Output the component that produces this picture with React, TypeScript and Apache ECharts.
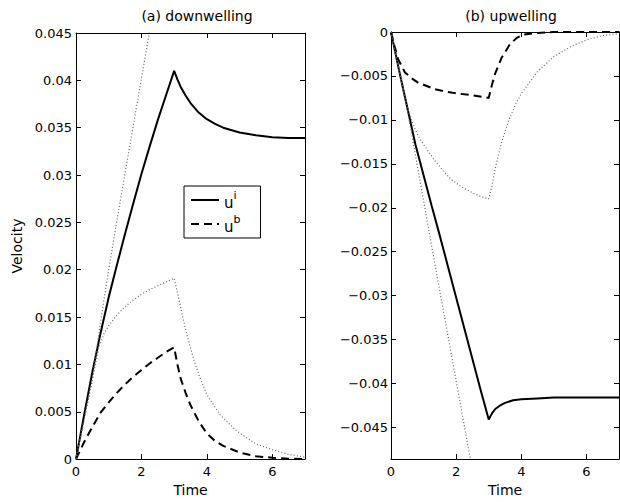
import React, { useEffect, useRef } from "react";
import * as echarts from "echarts";

// ---------- data ----------
const xTicks = [0, 2, 4, 6];
const downTicks = [0, 0.005, 0.01, 0.015, 0.02, 0.025, 0.03, 0.035, 0.04, 0.045];
const upTicks = [0, -0.005, -0.01, -0.015, -0.02, -0.025, -0.03, -0.035, -0.04, -0.045];

// (a) downwelling
const tDownSolid = [0, 0.25, 0.5, 0.75, 1.0, 1.25, 1.5, 1.75, 2.0, 2.25, 2.5, 2.75, 3.0, 3.1, 3.2, 3.35, 3.5, 3.75, 4.0, 4.25, 4.5, 5.0, 5.5, 6.0, 6.5, 7.0];
const vDownSolid = [0, 0.0047, 0.0092, 0.0133, 0.0171, 0.0205, 0.0238, 0.027, 0.0301, 0.033, 0.0358, 0.0384, 0.041, 0.0401, 0.0393, 0.0384, 0.0376, 0.0366, 0.0359, 0.0354, 0.035, 0.0345, 0.0342, 0.034, 0.0339, 0.0339];

const tDownDash = [0, 0.25, 0.5, 0.75, 1.0, 1.25, 1.5, 1.75, 2.0, 2.25, 2.5, 2.75, 3.0, 3.1, 3.2, 3.35, 3.5, 3.75, 4.0, 4.25, 4.5, 5.0, 5.5, 6.0, 6.5, 7.0];
const vDownDash = [0, 0.0018, 0.0034, 0.0049, 0.006, 0.007, 0.0079, 0.0087, 0.0094, 0.0101, 0.0107, 0.0113, 0.0118, 0.01, 0.0085, 0.007, 0.0057, 0.004, 0.0027, 0.0019, 0.0014, 0.0007, 0.0003, 0.00015, 0.00005, 0];

const tDownDotA = [0, 0.25, 0.5, 0.75, 1.0, 1.25, 1.5, 1.75, 2.0, 2.25, 2.4];
const vDownDotA = [0, 0.0042, 0.0084, 0.0145, 0.02, 0.0252, 0.0302, 0.0352, 0.0402, 0.0452, 0.0482];

const tDownDotB = [0, 0.25, 0.5, 0.7, 0.85, 1.0, 1.25, 1.5, 1.75, 2.0, 2.25, 2.5, 2.75, 3.0, 3.1, 3.25, 3.4, 3.6, 3.8, 4.0, 4.4, 4.9, 5.5, 6.0, 6.5, 7.0];
const vDownDotB = [0, 0.0042, 0.0084, 0.0118, 0.0132, 0.0141, 0.0152, 0.0161, 0.0168, 0.0174, 0.0179, 0.0183, 0.0187, 0.0191, 0.0176, 0.0152, 0.013, 0.0105, 0.0085, 0.0068, 0.0047, 0.003, 0.0016, 0.001, 0.0005, 0.0002];

// (b) upwelling
const tUpSolid = [0, 0.25, 0.5, 0.75, 1.0, 1.25, 1.5, 1.75, 2.0, 2.25, 2.5, 2.75, 3.0, 3.1, 3.2, 3.35, 3.5, 3.75, 4.0, 4.5, 5.0, 6.0, 7.0];
const vUpSolid = [0, -0.0044, -0.0086, -0.0128, -0.0163, -0.0198, -0.0232, -0.0267, -0.0302, -0.0337, -0.0372, -0.0407, -0.0441, -0.0434, -0.0429, -0.0425, -0.0422, -0.0419, -0.0418, -0.0417, -0.0416, -0.0416, -0.0416];

const tUpDash = [0, 0.1, 0.22, 0.43, 0.65, 0.84, 1.0, 1.34, 1.7, 2.05, 2.5, 3.0, 3.1, 3.2, 3.4, 3.65, 3.85, 4.05, 4.5, 5.0, 7.0];
const vUpDash = [0, -0.0015, -0.0031, -0.0046, -0.0053, -0.0058, -0.006, -0.0065, -0.0068, -0.007, -0.0072, -0.0075, -0.006, -0.0047, -0.0029, -0.0014, -0.0007, -0.0003, -0.0001, 0, 0];

const tUpDotA = [0, 0.25, 0.5, 0.75, 1.0, 1.25, 1.5, 1.75, 2.0, 2.25, 2.5];
const vUpDotA = [0, -0.0044, -0.0088, -0.014, -0.0192, -0.0244, -0.0295, -0.0346, -0.0397, -0.0448, -0.0499];

const tUpDotB = [0, 0.25, 0.5, 0.63, 0.8, 1.0, 1.34, 1.6, 1.85, 2.2, 2.5, 2.75, 3.0, 3.1, 3.2, 3.4, 3.6, 3.8, 4.0, 4.5, 5.0, 5.5, 6.0, 6.5, 7.0];
const vUpDotB = [0, -0.0043, -0.0085, -0.01, -0.0116, -0.0128, -0.0146, -0.0158, -0.0168, -0.0177, -0.0183, -0.0187, -0.019, -0.0175, -0.0155, -0.0125, -0.0102, -0.0084, -0.007, -0.0045, -0.0028, -0.0017, -0.0009, -0.0004, -0.0002];

const zip = (t: number[], v: number[]) => t.map((x, i) => [x, v[i]]);

const FONT = "DejaVu Sans";

const fmt = (v: number) => {
  const r = parseFloat(v.toFixed(4));
  if (r === 0) return "0";
  return r < 0 ? "\u2212" + String(-r) : String(r);
};

function makeX(gridIndex: number, pos: "bottom" | "top") {
  const main = pos === "bottom";
  return {
    type: "value",
    gridIndex,
    position: pos,
    min: 0,
    max: 7,
    name: main ? "Time" : "",
    nameLocation: "middle",
    nameGap: 21,
    nameTextStyle: { fontFamily: FONT, fontSize: 14, color: "#000" },
    axisLine: { show: true, onZero: false, lineStyle: { color: "#000", width: 1 } },
    axisTick: { show: true, inside: true, length: 5, customValues: xTicks, lineStyle: { color: "#000" } },
    axisLabel: { show: main, customValues: xTicks, margin: 6, fontFamily: FONT, fontSize: 13, color: "#000", formatter: fmt },
    splitLine: { show: false },
  };
}

function makeY(gridIndex: number, pos: "left" | "right", min: number, max: number, ticks: number[], name: string, margin: number) {
  const main = pos === "left";
  return {
    type: "value",
    gridIndex,
    position: pos,
    min,
    max,
    name: main ? name : "",
    nameLocation: "middle",
    nameGap: 52,
    nameTextStyle: { fontFamily: FONT, fontSize: 14, color: "#000" },
    axisLine: { show: true, onZero: false, lineStyle: { color: "#000", width: 1 } },
    axisTick: { show: true, inside: true, length: 5, customValues: ticks, lineStyle: { color: "#000" } },
    axisLabel: { show: main, customValues: ticks, margin, fontFamily: FONT, fontSize: 13, color: "#000", formatter: fmt },
    splitLine: { show: false },
  };
}

const solidStyle = { color: "#000", width: 2, type: "solid" };
const dashStyle = { color: "#000", width: 2, type: [8, 5] };
const dotStyle = { color: "#666", width: 1.2, type: [1, 2.2] };

function line(name: string, xi: number, yi: number, data: number[][], lineStyle: any) {
  return {
    type: "line",
    name,
    xAxisIndex: xi,
    yAxisIndex: yi,
    data,
    symbol: "none",
    showSymbol: false,
    clip: true,
    lineStyle,
    itemStyle: { color: lineStyle.color },
    silent: true,
  };
}

export default function App() {
  const ref = useRef<HTMLDivElement>(null);
  useEffect(() => {
    document.body.style.margin = "0";
    const chart = echarts.init(ref.current!, null, { renderer: "svg" });
    chart.setOption({
      animation: false,
      backgroundColor: "#fff",
      title: [
        { text: "(a) downwelling", left: 192, top: 4, textAlign: "center", textStyle: { fontFamily: FONT, fontSize: 14, fontWeight: "normal", color: "#000" } },
        { text: "(b) upwelling", left: 506, top: 4, textAlign: "center", textStyle: { fontFamily: FONT, fontSize: 14, fontWeight: "normal", color: "#000" } },
      ],
      grid: [
        { left: 76, top: 33, width: 229, height: 428, containLabel: false },
        { left: 391, top: 32, width: 228, height: 430, containLabel: false },
      ],
      xAxis: [makeX(0, "bottom"), makeX(0, "top"), makeX(1, "bottom"), makeX(1, "top")],
      yAxis: [
        makeY(0, "left", 0, 0.045, downTicks, "Velocity", 4),
        makeY(0, "right", 0, 0.045, downTicks, "", 4),
        makeY(1, "left", -0.0486, 0, upTicks, "", 3),
        makeY(1, "right", -0.0486, 0, upTicks, "", 3),
      ],
      legend: {
        data: ["u^i", "u^b"],
        orient: "vertical",
        left: 184,
        top: 186,
        padding: [4, 20, 4, 6],
        itemGap: 4,
        itemWidth: 28,
        itemHeight: 14,
        itemStyle: { opacity: 0 },
        backgroundColor: "#fff",
        borderColor: "#000",
        borderWidth: 1,
        borderRadius: 0,
        selectedMode: false,
        formatter: (name: string) => (name === "u^i" ? "{b|u}{s|i}" : "{b|u}{s|b}"),
        textStyle: {
          fontFamily: FONT,
          color: "#000",
          rich: {
            b: { fontFamily: FONT, fontSize: 15, lineHeight: 20, verticalAlign: "bottom", color: "#000" },
            s: { fontFamily: FONT, fontSize: 11, lineHeight: 20, verticalAlign: "top", color: "#000" },
          },
        },
      },
      series: [
        line("u^i", 0, 0, zip(tDownSolid, vDownSolid), solidStyle),
        line("u^b", 0, 0, zip(tDownDash, vDownDash), dashStyle),
        line("dotted A (a)", 0, 0, zip(tDownDotA, vDownDotA), dotStyle),
        line("dotted B (a)", 0, 0, zip(tDownDotB, vDownDotB), dotStyle),
        line("u^i", 2, 2, zip(tUpSolid, vUpSolid), solidStyle),
        line("u^b", 2, 2, zip(tUpDash, vUpDash), dashStyle),
        line("dotted A (b)", 2, 2, zip(tUpDotA, vUpDotA), dotStyle),
        line("dotted B (b)", 2, 2, zip(tUpDotB, vUpDotB), dotStyle),
      ],
    });
    return () => chart.dispose();
  }, []);
  return <div ref={ref} style={{ width: 620, height: 502 }} />;
}
